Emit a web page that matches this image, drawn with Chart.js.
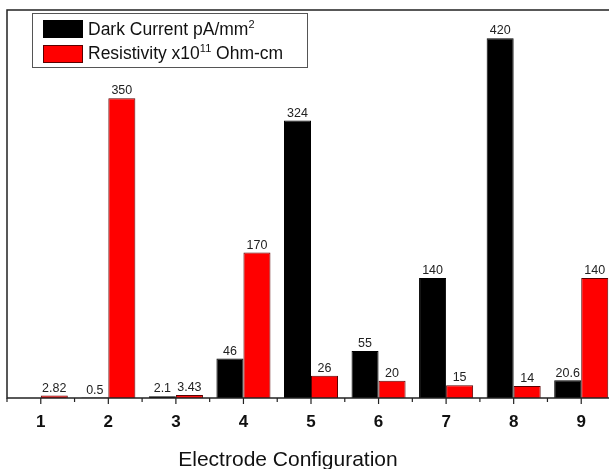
<!DOCTYPE html>
<html>
<head>
<meta charset="utf-8">
<script src="https://cdn.jsdelivr.net/npm/chart.js@4"></script>
<style>
html,body{margin:0;padding:0;background:#fff;overflow:hidden;width:609px;height:469px;}
#wrap{position:relative;width:616px;height:469px;}
</style>
</head>
<body>
<div id="wrap"><canvas id="c" width="616" height="469"></canvas></div>
<script>
const categories = ['1','2','3','4','5','6','7','8','9'];
const darkCurrent = [null, 0.5, 2.1, 46, 324, 55, 140, 420, 20.6];
const resistivity = [2.82, 350, 3.43, 170, 26, 20, 15, 14, 140];
const darkLabels = ['', '0.5', '2.1', '46', '324', '55', '140', '420', '20.6'];
const resLabels = ['2.82', '350', '3.43', '170', '26', '20', '15', '14', '140'];
const legendParts = [
  [['Dark Current pA/mm', false], ['2', true]],
  [['Resistivity x10', false], ['11', true], [' Ohm-cm', false]]
];
const xTitle = 'Electrode Configuration';
const FONT = 'Arial, "Liberation Sans", sans-serif';

const frameAndTicks = {
  id: 'frameAndTicks',
  afterDraw(chart) {
    const ctx = chart.ctx, a = chart.chartArea, xs = chart.scales.x;
    ctx.save();
    ctx.strokeStyle = '#222';
    ctx.lineWidth = 1.5;
    ctx.strokeRect(a.left, a.top, a.right - a.left, a.bottom - a.top);
    ctx.lineWidth = 1.2;
    const n = categories.length;
    for (let i = 0; i < n; i++) {
      const x = xs.getPixelForValue(i);
      ctx.beginPath(); ctx.moveTo(x, a.bottom); ctx.lineTo(x, a.bottom + 6); ctx.stroke();
    }
    for (let i = 0; i <= n; i++) {
      const x = xs.getPixelForValue(i - 0.5);
      ctx.beginPath(); ctx.moveTo(x, a.bottom); ctx.lineTo(x, a.bottom + 4); ctx.stroke();
    }
    // axis title (the original figure is cropped on the right, so title sits left of the visible centre)
    ctx.font = '21px ' + FONT;
    ctx.fillStyle = '#111';
    ctx.textAlign = 'center';
    ctx.textBaseline = 'alphabetic';
    ctx.fillText(xTitle, 288, 466);
    ctx.restore();
  }
};

const valueLabels = {
  id: 'valueLabels',
  afterDatasetsDraw(chart) {
    const ctx = chart.ctx;
    ctx.save();
    ctx.font = '12.5px ' + FONT;
    ctx.fillStyle = '#222';
    ctx.textAlign = 'center';
    ctx.textBaseline = 'bottom';
    const lbls = [darkLabels, resLabels];
    chart.data.datasets.forEach((ds, di) => {
      chart.getDatasetMeta(di).data.forEach((bar, i) => {
        const t = lbls[di][i];
        if (!t || ds.data[i] == null) return;
        ctx.fillText(t, bar.x, bar.y - 1);
      });
    });
    ctx.restore();
  }
};

const customLegend = {
  id: 'customLegend',
  afterDraw(chart) {
    const ctx = chart.ctx;
    ctx.save();
    const bx = 32.5, by = 13.5, bw = 275, bh = 54;
    ctx.strokeStyle = '#555';
    ctx.lineWidth = 1;
    ctx.strokeRect(bx, by, bw, bh);
    chart.data.datasets.forEach((ds, di) => {
      const sy = 20 + di * 25;
      ctx.fillStyle = ds.backgroundColor;
      ctx.fillRect(43, sy, 40, 18);
      ctx.strokeStyle = ds.borderColor;
      ctx.strokeRect(43.5, sy + 0.5, 39, 17);
      let x = 88;
      const base = 35 + di * 24;
      ctx.fillStyle = '#111';
      ctx.textBaseline = 'alphabetic';
      ctx.textAlign = 'left';
      legendParts[di].forEach(([txt, sup]) => {
        ctx.font = (sup ? '11px ' : '17.5px ') + FONT;
        ctx.fillText(txt, x, sup ? base - 7 : base);
        x += ctx.measureText(txt).width;
      });
    });
    ctx.restore();
  }
};

new Chart(document.getElementById('c'), {
  type: 'bar',
  data: {
    labels: categories,
    datasets: [
      { label: 'Dark Current pA/mm²', data: darkCurrent, backgroundColor: '#000000', borderColor: '#000000', borderWidth: 1 },
      { label: 'Resistivity x10¹¹ Ohm-cm', data: resistivity, backgroundColor: '#ff0000', borderColor: '#5a0000', borderWidth: 1 }
    ]
  },
  options: {
    responsive: false,
    animation: false,
    layout: { padding: { left: 7, top: 10, right: 1, bottom: 0 } },
    plugins: { legend: { display: false }, tooltip: { enabled: false } },
    datasets: { bar: { categoryPercentage: 0.8, barPercentage: 1.0 } },
    scales: {
      x: {
        grid: { display: false },
        border: { display: false },
        ticks: { color: '#111', font: { family: FONT, size: 17, weight: 'bold' }, padding: 6, maxRotation: 0 },
        title: { display: false },
        afterFit(scale) { scale.height = 71; }
      },
      y: { display: false, min: 0, max: 453 }
    }
  },
  plugins: [frameAndTicks, valueLabels, customLegend]
});
</script>
</body>
</html>
